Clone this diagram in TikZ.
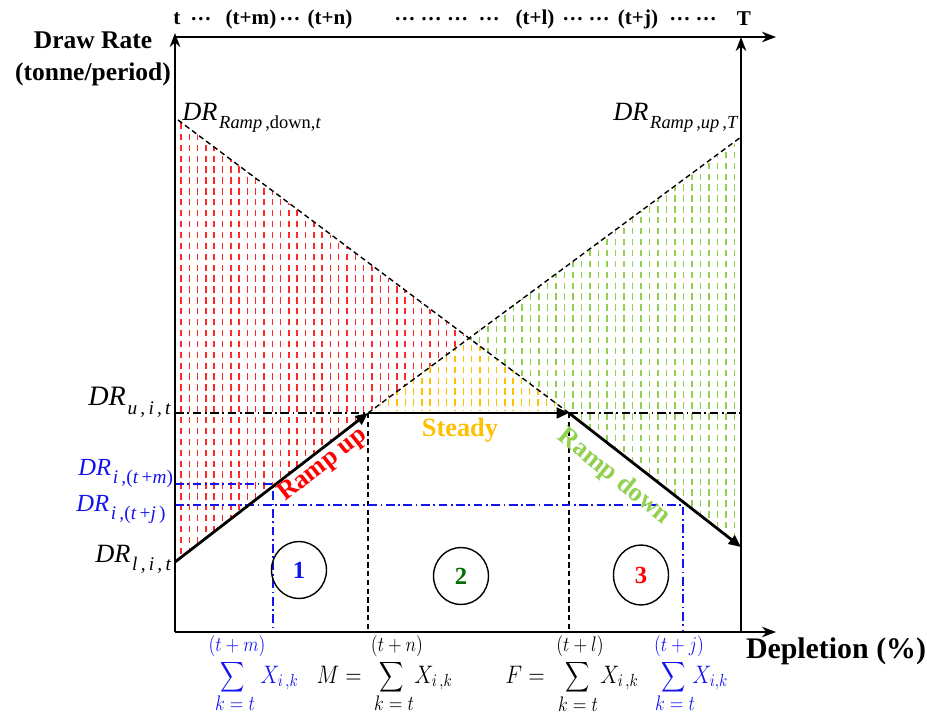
\documentclass[tikz,border=0pt]{standalone}
\usepackage{exscale}
\usepackage{fontspec}
\setmainfont{Liberation Serif}
\usetikzlibrary{arrows.meta,shapes.geometric}
\definecolor{rampred}{RGB}{255,0,0}
\definecolor{hatchred}{RGB}{255,40,40}
\definecolor{steadyc}{RGB}{255,192,0}
\definecolor{downc}{RGB}{146,208,80}
\definecolor{bluec}{RGB}{20,20,240}
\definecolor{dgreen}{RGB}{0,110,0}
\newcommand\DRlab[2][11]{\textit{DR}\kern1pt\raisebox{-0.33em}{\fontsize{#1}{#1}\selectfont #2}}
\newcommand\nsum{\scalebox{0.8}[1]{$\displaystyle\sum$}}
\newcommand\nx[1]{\scalebox{0.85}[1]{$#1$}}
\newcommand\nl[1]{\scalebox{0.85}[1]{$#1$}}
\begin{document}
\begin{tikzpicture}[x=0.02cm,y=-0.02cm,
  axis/.style={line width=1.1pt,-{Stealth[length=8pt,width=6pt]}},
  ramp/.style={line width=1.6pt,-{Triangle[length=7pt,width=6pt]}},
  guide/.style={line width=0.8pt,dash pattern=on 3pt off 2pt},
  dashdot/.style={line width=0.8pt,dash pattern=on 5pt off 2pt on 1pt off 2pt},
  bluedd/.style={bluec,line width=0.9pt,dash pattern=on 5pt off 2pt on 1pt off 2pt},
  hatch/.style={line width=0.8pt,dash pattern=on 3.6pt off 2.6pt},
  lab/.style={font=\bfseries\fontsize{14.5}{16}\selectfont,inner sep=0pt},
  toplab/.style={font=\bfseries\fontsize{12}{14}\selectfont,inner sep=0pt},
  phase/.style={font=\bfseries\fontsize{15}{17}\selectfont,inner sep=0pt},
  drl/.style={inner sep=0pt,anchor=base west},
  frm/.style={font=\fontsize{14}{16}\selectfont,inner sep=0pt,anchor=base},
  sig/.style={font=\fontsize{13}{15}\selectfont,inner sep=0pt},
  lim/.style={font=\fontsize{11.5}{12}\selectfont,inner sep=0pt},
  zone/.style={draw=black,line width=0.8pt,ellipse,minimum width=1.1cm,minimum height=1.14cm,inner sep=0pt,font=\bfseries\fontsize{14}{16}\selectfont}
]
\useasboundingbox (0,0) rectangle (927,714);
% key points
\coordinate (O) at (175,632);
\coordinate (Ytop) at (175,33);
\coordinate (Xtop0) at (175,37);
\coordinate (Xtop1) at (776,37);
\coordinate (Xend) at (776,632);
\coordinate (R0) at (741,632);
\coordinate (R1) at (741,37);
\coordinate (A) at (178,120);
\coordinate (L) at (175,562);
\coordinate (U1) at (368,413);
\coordinate (U2) at (569,413);
\coordinate (E) at (741,547);
\coordinate (UT) at (741,137);
\coordinate (C) at (468,338);
\coordinate (Uleft) at (175,413);
\coordinate (Uright) at (741,413);
\coordinate (B1) at (368,632);
\coordinate (B2) at (569,632);
\coordinate (Bm0) at (175,484);
\coordinate (Bm1) at (273,484);
\coordinate (Bm2) at (273,632);
\coordinate (Bj0) at (175,505);
\coordinate (Bj1) at (683,505);
\coordinate (Bj2) at (683,632);
% hatching
\begin{scope}
\clip (178,120) -- (C) -- (U1) -- (L) -- (178,560) -- cycle;
\foreach \x in {181,189.3,...,470} \draw[hatch,hatchred] (\x,112) -- (\x,570);
\end{scope}
\begin{scope}
\clip (U1) -- (C) -- (U2) -- cycle;
\foreach \x in {372,380.3,...,570} \draw[hatch,steadyc] (\x,334) -- (\x,411);
\end{scope}
\begin{scope}
\clip (C) -- (738,141) -- (738,545) -- (E) -- (U2) -- cycle;
\foreach \x in {471,479.5,...,740} \draw[hatch,downc] (\x,130) -- (\x,550);
\end{scope}
% guides
\draw[guide] (A) -- (U2);
\draw[guide] (U1) -- (UT);
\draw[dashdot] (Uleft) -- (U1);
\draw[dashdot] (U2) -- (Uright);
\draw[guide] (U1) -- (B1);
\draw[guide] (U2) -- (B2);
\draw[bluedd] (Bm0) -- (Bm1) -- (Bm2);
\draw[bluedd] (Bj0) -- (Bj1) -- (Bj2);
% axes
\draw[axis] (O) -- (Ytop);
\draw[axis] (Xtop0) -- (Xtop1);
\draw[axis] (O) -- (Xend);
\draw[axis] (R0) -- (R1);
% ramps
\draw[ramp] (L) -- (U1);
\draw[ramp] (U1) -- (U2);
\draw[ramp] (U2) -- (E);
% phase labels
\node[phase,rampred,rotate=38] (rup) at (323,465) {Ramp up};
\node[phase,steadyc] (std) at (460,430) {Steady};
\node[phase,downc,rotate=-39] (rdn) at (614,477) {Ramp down};
% zones
\node[zone,text=bluec] (z1) at (299,570) {1};
\node[zone,text=dgreen] (z2) at (461,576) {2};
\node[zone,text=rampred,minimum height=1.2cm] (z3) at (641,575) {3};
% axis labels
\node[lab] (dr) at (93,40) {Draw Rate};
\node[lab] (tp) at (93,74) {(tonne/period)};
\node[font=\bfseries\fontsize{17}{19}\selectfont,inner sep=0pt] (dep) at (836,651) {Depletion (\%)};
% top labels
\node[toplab] (t0) at (177,19) {t};
\node[toplab] (d1) at (201,19) {…};
\node[toplab] (tm) at (251,19) {(t+m)};
\node[toplab] (d2) at (290,19) {…};
\node[toplab] (tn) at (330,19) {(t+n)};
\node[toplab] (d3) at (447,19) {… … … \ …};
\node[toplab] (tl) at (535,19) {(t+l)};
\node[toplab] (d4) at (586,19) {… …};
\node[toplab] (tj) at (638,19) {(t+j)};
\node[toplab] (d5) at (693,19) {… …};
\node[toplab] (tT) at (744,19) {T};
% DR labels
\node[drl,font=\fontsize{15}{17}\selectfont] (drd) at (182,120) {\DRlab[10.5]{\textit{Ramp\,},down,\textit{t}}};
\node[drl,font=\fontsize{15}{17}\selectfont] (dru) at (613,120) {\DRlab[10.5]{\textit{Ramp\,,up\,,T}}};
\node[drl,font=\fontsize{16}{18}\selectfont] (druit) at (88,405) {\DRlab{\textit{u\,,\,i\,,\,t}}};
\node[drl,bluec,font=\fontsize{14}{16}\selectfont] (drm) at (78,475) {\DRlab{\textit{i\,,}(\textit{t}\,+\textit{m})}};
\node[drl,bluec,font=\fontsize{14}{16}\selectfont] (drj) at (76,511) {\DRlab{\textit{i\,,}(\textit{t}\,+\textit{j}\,)}};
\node[drl,font=\fontsize{15}{17}\selectfont] (drl) at (95,562) {\DRlab{\textit{l\,,\,i\,,\,t}}};
% formulas
\node[sig,bluec] (s1) at (233,677) {\nsum};
\node[lim,bluec] (s1t) at (237,646) {\nl{(t+m)}};
\node[lim,bluec] (s1b) at (235,703) {\nl{k=t}};
\node[frm,bluec,anchor=base west] (x1) at (260,683) {\nx{X_{i\,,k}}};
\node[frm,anchor=base east] (mm) at (362,683) {\nx{M=}};
\node[sig] (s2) at (392,677) {\nsum};
\node[lim] (s2t) at (397,646) {\nl{(t+n)}};
\node[lim] (s2b) at (394,703) {\nl{k=t}};
\node[frm,anchor=base west] (x2) at (414,683) {\nx{X_{i\,,k}}};
\node[frm,anchor=base east] (ff) at (545,683) {\nx{F=}};
\node[sig] (s3) at (578,677) {\nsum};
\node[lim] (s3t) at (580,646) {\nl{(t+l)}};
\node[lim] (s3b) at (578,704) {\nl{k=t}};
\node[frm,anchor=base west] (x3) at (600,683) {\nx{X_{i\,,k}}};
\node[sig,bluec] (s4) at (674,677) {\nsum};
\node[lim,bluec] (s4t) at (679,646) {\nl{(t+j)}};
\node[lim,bluec] (s4b) at (675,703) {\nl{k=t}};
\node[frm,bluec,anchor=base west] (x4) at (692,683) {\nx{X_{i,k}}};
\end{tikzpicture}
\end{document}
